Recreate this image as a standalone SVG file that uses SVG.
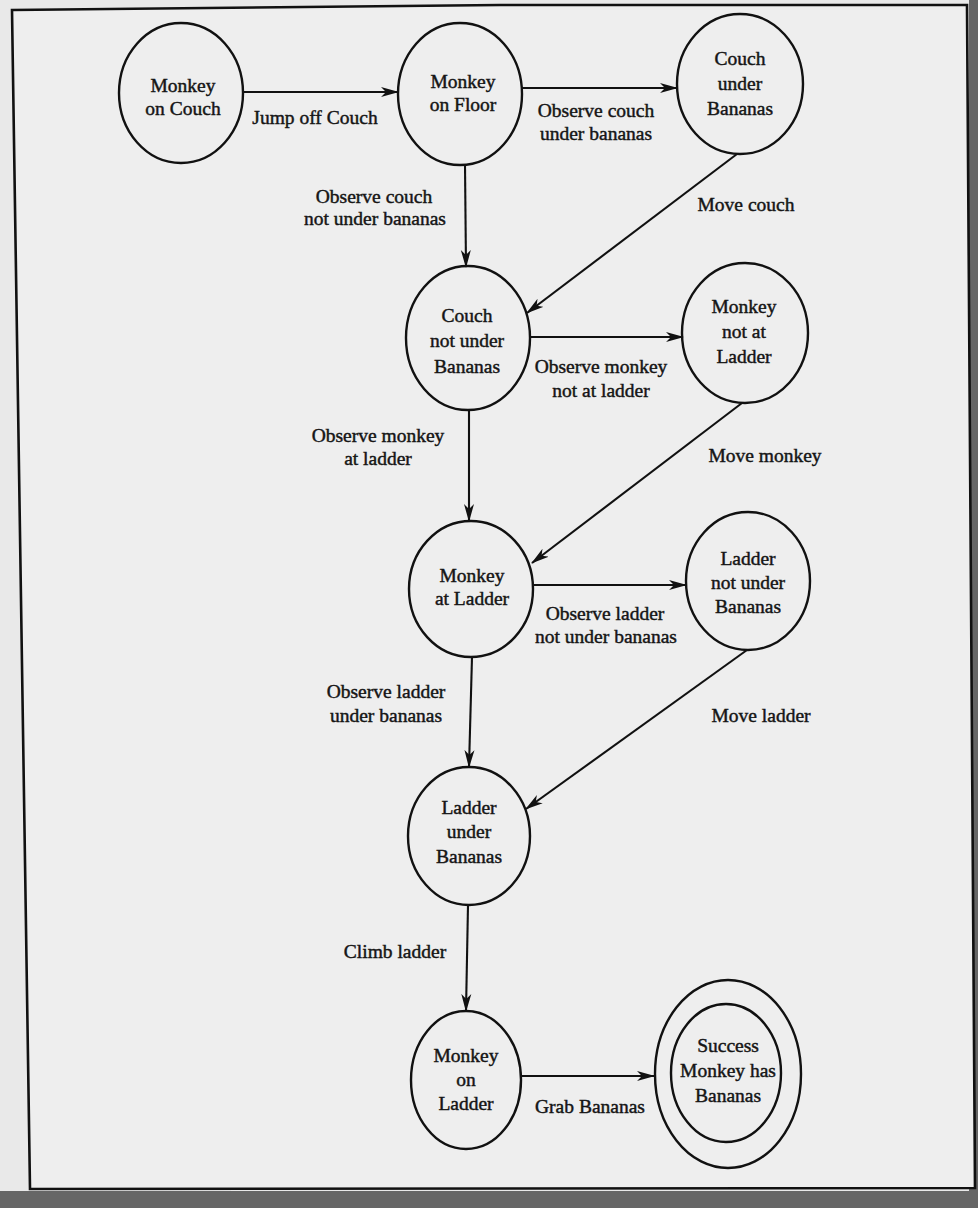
<svg xmlns="http://www.w3.org/2000/svg" width="978" height="1208" viewBox="0 0 978 1208">
<style>
.node ellipse{fill:none;stroke:#111;stroke-width:2.4}
.lbl{font-family:"Liberation Serif","Times New Roman",serif;font-size:19.5px;fill:#151515;stroke:#151515;stroke-width:0.45;text-anchor:middle}
.edge{fill:none;stroke:#111;stroke-width:2.1}
.frame{stroke:#111;stroke-width:2.6}
</style>
<defs>
<marker id="ah" viewBox="0 0 18 11" refX="17" refY="5.5" markerWidth="18" markerHeight="11" markerUnits="userSpaceOnUse" orient="auto">
<path d="M0,0.5 L18,5.5 L0,10.5 L5,5.5 Z" fill="#111"/>
</marker>
</defs>
<rect x="0" y="0" width="978" height="1208" fill="#e9e9e9"/>
<rect x="969" y="0" width="9" height="1208" fill="#666"/>
<rect x="0" y="1191" width="978" height="17" fill="#666"/>
<path class="frame" d="M12,10 L500,5 L967,5 L975,1188 L30,1189 Z" fill="#eeeeee"/>

<g id="connectors">
<g id="e1"><line class="edge" x1="243" y1="92" x2="398" y2="92" marker-end="url(#ah)"/><text class="lbl" x="315" y="124">Jump off Couch</text></g>
<g id="e2"><line class="edge" x1="522" y1="88" x2="677" y2="88" marker-end="url(#ah)"/><text class="lbl" x="596" y="117">Observe couch</text><text class="lbl" x="596" y="140">under bananas</text></g>
<g id="e3"><line class="edge" x1="737" y1="154" x2="527" y2="313" marker-end="url(#ah)"/><text class="lbl" x="746" y="211">Move couch</text></g>
<g id="e4"><line class="edge" x1="465" y1="165" x2="466" y2="267" marker-end="url(#ah)"/><text class="lbl" x="374" y="203">Observe couch</text><text class="lbl" x="375" y="225">not under bananas</text></g>
<g id="e5"><line class="edge" x1="530" y1="337" x2="683" y2="337" marker-end="url(#ah)"/><text class="lbl" x="601" y="373">Observe monkey</text><text class="lbl" x="601" y="397">not at ladder</text></g>
<g id="e6"><line class="edge" x1="469" y1="410" x2="469" y2="521" marker-end="url(#ah)"/><text class="lbl" x="378" y="442">Observe monkey</text><text class="lbl" x="378" y="465">at ladder</text></g>
<g id="e7"><line class="edge" x1="742" y1="403" x2="532" y2="563" marker-end="url(#ah)"/><text class="lbl" x="765" y="462">Move monkey</text></g>
<g id="e8"><line class="edge" x1="534" y1="585" x2="686" y2="585" marker-end="url(#ah)"/><text class="lbl" x="605" y="620">Observe ladder</text><text class="lbl" x="606" y="643">not under bananas</text></g>
<g id="e9"><line class="edge" x1="472" y1="657" x2="469" y2="767" marker-end="url(#ah)"/><text class="lbl" x="386" y="698">Observe ladder</text><text class="lbl" x="386" y="722">under bananas</text></g>
<g id="e10"><line class="edge" x1="747" y1="650" x2="526" y2="809" marker-end="url(#ah)"/><text class="lbl" x="761" y="722">Move ladder</text></g>
<g id="e11"><line class="edge" x1="468" y1="905" x2="466" y2="1011" marker-end="url(#ah)"/><text class="lbl" x="395" y="958">Climb ladder</text></g>
<g id="e12"><line class="edge" x1="521" y1="1076" x2="654" y2="1076" marker-end="url(#ah)"/><text class="lbl" x="590" y="1113">Grab Bananas</text></g>
</g>

<g id="n1" class="node"><ellipse cx="181" cy="93" rx="62" ry="70"/><text class="lbl" x="183" y="92">Monkey</text><text class="lbl" x="183" y="115">on Couch</text></g>
<g id="n2" class="node"><ellipse cx="460" cy="94" rx="62" ry="71"/><text class="lbl" x="463" y="88">Monkey</text><text class="lbl" x="463" y="111">on Floor</text></g>
<g id="n3" class="node"><ellipse cx="740" cy="84" rx="63" ry="70"/><text class="lbl" x="740" y="65">Couch</text><text class="lbl" x="740" y="90">under</text><text class="lbl" x="740" y="115">Bananas</text></g>
<g id="n4" class="node"><ellipse cx="468" cy="338" rx="62" ry="72"/><text class="lbl" x="467" y="322">Couch</text><text class="lbl" x="467" y="347">not under</text><text class="lbl" x="467" y="373">Bananas</text></g>
<g id="n5" class="node"><ellipse cx="745" cy="333" rx="63" ry="70"/><text class="lbl" x="744" y="313">Monkey</text><text class="lbl" x="744" y="338">not at</text><text class="lbl" x="744" y="363">Ladder</text></g>
<g id="n6" class="node"><ellipse cx="471" cy="589" rx="62" ry="68"/><text class="lbl" x="472" y="582">Monkey</text><text class="lbl" x="472" y="605">at Ladder</text></g>
<g id="n7" class="node"><ellipse cx="748" cy="581" rx="62" ry="69"/><text class="lbl" x="748" y="565">Ladder</text><text class="lbl" x="748" y="589">not under</text><text class="lbl" x="748" y="613">Bananas</text></g>
<g id="n8" class="node"><ellipse cx="469" cy="836" rx="61" ry="69"/><text class="lbl" x="469" y="814">Ladder</text><text class="lbl" x="469" y="838">under</text><text class="lbl" x="469" y="863">Bananas</text></g>
<g id="n9" class="node"><ellipse cx="466" cy="1080" rx="55" ry="69"/><text class="lbl" x="466" y="1062">Monkey</text><text class="lbl" x="466" y="1086">on</text><text class="lbl" x="466" y="1110">Ladder</text></g>
<g id="n10" class="node"><ellipse cx="728" cy="1074" rx="73" ry="94"/><ellipse cx="726" cy="1073" rx="55" ry="69"/><text class="lbl" x="728" y="1052">Success</text><text class="lbl" x="728" y="1077">Monkey has</text><text class="lbl" x="728" y="1102">Bananas</text></g>
</svg>
